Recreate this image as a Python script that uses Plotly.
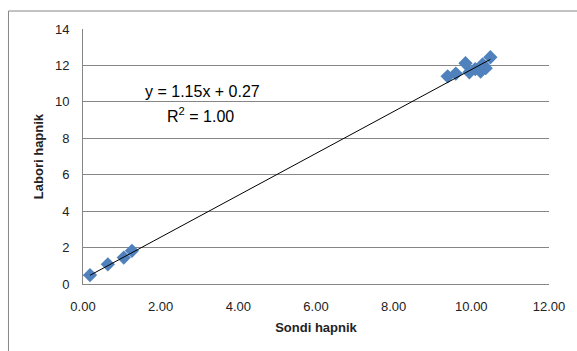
import plotly.graph_objects as go
import numpy as np

# Data
sondi = [0.18, 0.64, 1.05, 1.26, 9.39, 9.60, 9.85, 9.95, 10.10, 10.24, 10.29, 10.37, 10.49]
labori = [0.49, 1.08, 1.45, 1.82, 11.40, 11.55, 12.12, 11.62, 11.80, 11.66, 12.05, 11.85, 12.45]
slope = 1.15
intercept = 0.27
r2 = 1.00
x_ticks = [0, 2, 4, 6, 8, 10, 12]
y_ticks = [0, 2, 4, 6, 8, 10, 12, 14]

xs = np.array([min(sondi), max(sondi)])
ys = slope * xs + intercept

fig = go.Figure()
fig.add_trace(go.Scatter(
    x=sondi, y=labori, mode="markers",
    marker=dict(symbol="diamond", size=11, color="#4F81BD", line=dict(width=0)),
    showlegend=False, hoverinfo="x+y"))
fig.add_trace(go.Scatter(
    x=xs, y=ys, mode="lines", line=dict(color="#000000", width=1),
    showlegend=False, hoverinfo="skip"))

fnt = "Liberation Sans, Arial, sans-serif"
fig.update_layout(
    width=577, height=351,
    margin=dict(l=83, r=25, t=29, b=67),
    paper_bgcolor="white", plot_bgcolor="white",
    font=dict(family=fnt, size=12, color="#222222"),
    xaxis=dict(range=[0, 12], tickvals=x_ticks, tickformat=".2f",
               showgrid=False, zeroline=False, showline=True, linecolor="#868686",
               linewidth=1, ticks="", tickfont=dict(size=13), ticklabelstandoff=10,
               title=dict(text="<b>Sondi hapnik</b>", font=dict(size=13), standoff=10)),
    yaxis=dict(range=[0, 14], tickvals=y_ticks,
               showgrid=True, gridcolor="#868686", gridwidth=1, zeroline=False,
               showline=True, linecolor="#868686", linewidth=1, ticks="",
               tickfont=dict(size=13), ticklabelstandoff=10,
               title=dict(text="<b>Labori hapnik</b>", font=dict(size=13), standoff=8)),
    annotations=[
        dict(x=(203-83)/469, y=(284-91)/255, xref="paper", yref="paper",
             xanchor="center", yanchor="middle",
             text=f"y = {slope:.2f}x + {intercept:.2f}", showarrow=False,
             font=dict(size=16, color="#000000", family=fnt)),
        dict(x=(201-83)/469, y=(284-115)/255, xref="paper", yref="paper",
             xanchor="center", yanchor="middle",
             text=f"R<sup>2</sup> = {r2:.2f}", showarrow=False,
             font=dict(size=16, color="#000000", family=fnt)),
    ],
    shapes=[dict(type="rect", xref="paper", yref="paper",
                 x0=(8-83)/469, x1=(590-83)/469, y0=(284-370)/255, y1=(284-11)/255,
                 line=dict(color="#868686", width=1), fillcolor="rgba(0,0,0,0)",
                 layer="below")],
)

fig.write_html("out.html")
